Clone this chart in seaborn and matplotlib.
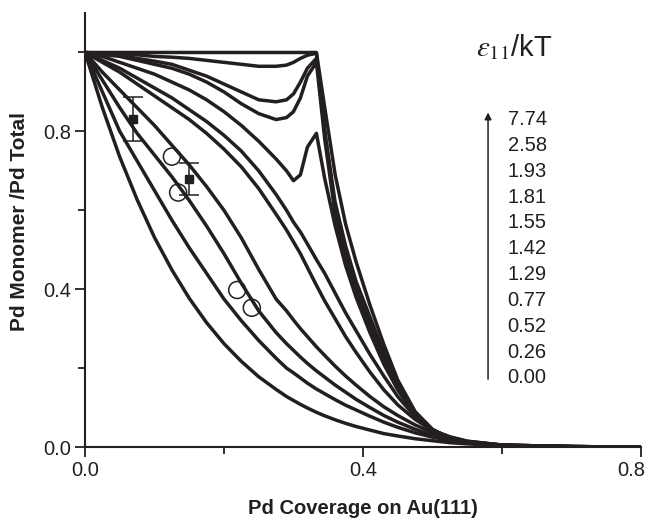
import numpy as np
import pandas as pd
import matplotlib
matplotlib.use("Agg")
import matplotlib.pyplot as plt
import matplotlib.transforms as mtransforms
import seaborn as sns

# Pd coverage grid shared by all simulated curves
coverage = [0, 0.025, 0.05, 0.075, 0.1, 0.125, 0.15, 0.175, 0.2, 0.225, 0.25,
            0.275, 0.29, 0.30, 0.31, 0.32, 0.333, 0.345, 0.36, 0.375, 0.39,
            0.41, 0.43, 0.45, 0.475, 0.5, 0.525, 0.55, 0.6, 0.7, 0.8]

# monomer fraction for each pair interaction eps_11/kT
eps_000 = [1, 0.86, 0.735, 0.627, 0.531, 0.449, 0.377, 0.315, 0.262, 0.217, 0.178,
           0.146, 0.128, 0.118, 0.108, 0.099, 0.088, 0.079, 0.069, 0.060, 0.052,
           0.043, 0.034, 0.028, 0.021, 0.016, 0.011, 0.008, 0.004, 0.001, 0.0]
eps_026 = [1, 0.90, 0.80, 0.725, 0.65, 0.575, 0.505, 0.44, 0.375, 0.32, 0.27,
           0.225, 0.20, 0.188, 0.175, 0.162, 0.147, 0.135, 0.12, 0.106, 0.094,
           0.078, 0.063, 0.05, 0.036, 0.025, 0.016, 0.01, 0.004, 0.001, 0.0]
eps_052 = [1, 0.93, 0.86, 0.795, 0.74, 0.685, 0.625, 0.56, 0.49, 0.415, 0.345,
           0.29, 0.262, 0.245, 0.228, 0.212, 0.193, 0.177, 0.157, 0.139, 0.121,
           0.10, 0.08, 0.063, 0.045, 0.03, 0.019, 0.012, 0.005, 0.001, 0.0]
eps_077 = [1, 0.95, 0.905, 0.86, 0.815, 0.765, 0.715, 0.66, 0.60, 0.53, 0.45,
           0.375, 0.345, 0.322, 0.30, 0.28, 0.254, 0.232, 0.205, 0.18, 0.157,
           0.128, 0.102, 0.08, 0.056, 0.037, 0.023, 0.014, 0.005, 0.001, 0.0]
eps_129 = [1, 0.975, 0.95, 0.92, 0.89, 0.86, 0.83, 0.795, 0.755, 0.71, 0.655,
           0.59, 0.55, 0.52, 0.49, 0.455, 0.41, 0.37, 0.325, 0.28, 0.24,
           0.19, 0.145, 0.107, 0.07, 0.042, 0.026, 0.015, 0.005, 0.001, 0.0]
eps_142 = [1, 0.98, 0.96, 0.935, 0.91, 0.885, 0.855, 0.825, 0.79, 0.75, 0.70,
           0.64, 0.60, 0.57, 0.545, 0.515, 0.475, 0.44, 0.39, 0.34, 0.295,
           0.235, 0.18, 0.128, 0.077, 0.043, 0.025, 0.014, 0.005, 0.001, 0.0]
eps_155 = [1, 0.99, 0.975, 0.96, 0.945, 0.925, 0.905, 0.88, 0.85, 0.815, 0.775,
           0.73, 0.70, 0.675, 0.69, 0.76, 0.795, 0.68, 0.56, 0.46, 0.38,
           0.29, 0.21, 0.145, 0.08, 0.041, 0.022, 0.012, 0.004, 0.001, 0.0]
eps_181 = [1, 0.995, 0.99, 0.98, 0.97, 0.96, 0.945, 0.925, 0.90, 0.87, 0.845,
           0.83, 0.835, 0.85, 0.885, 0.94, 0.975, 0.78, 0.59, 0.48, 0.395,
           0.305, 0.22, 0.15, 0.083, 0.042, 0.022, 0.012, 0.004, 0.001, 0.0]
eps_193 = [1, 0.997, 0.993, 0.985, 0.978, 0.97, 0.955, 0.94, 0.92, 0.90, 0.88,
           0.875, 0.88, 0.895, 0.925, 0.96, 0.985, 0.80, 0.60, 0.49, 0.405,
           0.315, 0.23, 0.155, 0.085, 0.043, 0.022, 0.012, 0.004, 0.001, 0.0]
eps_258 = [1, 0.998, 0.996, 0.994, 0.99, 0.988, 0.985, 0.98, 0.975, 0.97, 0.965,
           0.965, 0.968, 0.975, 0.985, 0.993, 0.998, 0.80, 0.62, 0.51, 0.42,
           0.33, 0.24, 0.16, 0.087, 0.044, 0.022, 0.012, 0.004, 0.001, 0.0]
eps_774 = [1, 1, 1, 1, 1, 1, 1, 1, 1, 1, 1,
           1, 1, 1, 1, 1, 1, 0.86, 0.69, 0.565, 0.47,
           0.36, 0.26, 0.17, 0.09, 0.045, 0.022, 0.011, 0.003, 0.0005, 0.0]

eps_labels = ["7.74", "2.58", "1.93", "1.81", "1.55", "1.42", "1.29",
              "0.77", "0.52", "0.26", "0.00"]
series = [eps_774, eps_258, eps_193, eps_181, eps_155, eps_142, eps_129,
          eps_077, eps_052, eps_026, eps_000]

# experimental monomer fractions with error bars
exp_x = [0.069, 0.150]
exp_y = [0.832, 0.680]
exp_err = [0.056, 0.040]

# monomer fractions from a second data set (open circles)
circ_x = [0.125, 0.134, 0.219, 0.240]
circ_y = [0.736, 0.645, 0.398, 0.353]

frames = [pd.DataFrame({"coverage": coverage, "monomer": vals, "eps": lab})
          for lab, vals in zip(eps_labels, series)]
df = pd.concat(frames, ignore_index=True)

sns.set_style("ticks")
plt.rcParams["font.family"] = ["Liberation Sans", "DejaVu Sans"]
plt.rcParams["mathtext.fontset"] = "stix"

ink = "#231f20"
fig = plt.figure(figsize=(6.52, 5.21), dpi=100)
ax = fig.add_axes([0.1304, 0.142, 0.8526, 0.833])

sns.lineplot(data=df, x="coverage", y="monomer", units="eps", estimator=None,
             color=ink, lw=2.5, ax=ax, legend=False)

ax.errorbar(exp_x, exp_y, yerr=exp_err, fmt="s", color=ink, ms=6,
            elinewidth=1.1, capsize=7, capthick=1.1)
sns.scatterplot(x=circ_x, y=circ_y, marker="o", s=150, facecolor="none",
                edgecolor=ink, linewidth=1.1, ax=ax, zorder=5)

ax.set_xlim(0, 0.8)
ax.set_ylim(0, 1.10)
ax.set_xticks([0.0, 0.4, 0.8])
ax.set_xticklabels(["0.0", "0.4", "0.8"])
ax.set_xticks([0.2, 0.6], minor=True)
ax.set_yticks([0.0, 0.4, 0.8])
ax.set_yticklabels(["0.0", "0.4", "0.8"])
ax.set_yticks([0.2, 0.6, 1.0], minor=True)
ax.tick_params(which="major", length=7, width=1.3, color=ink,
               labelsize=14.5, labelcolor=ink, pad=3)
ax.tick_params(which="minor", length=5, width=1.3, color=ink)
for side in ("left", "bottom"):
    ax.spines[side].set_linewidth(1.5)
    ax.spines[side].set_color(ink)
sns.despine(ax=ax)

# keep the last x tick label inside the figure edge
last = ax.get_xticklabels()[-1]
last.set_transform(last.get_transform() +
                   mtransforms.ScaledTranslation(-7 / 72, 0, fig.dpi_scale_trans))

ax.set_xlabel("Pd Coverage on Au(111)", fontsize=14.5, fontweight="bold",
              color=ink, labelpad=14)
ax.set_ylabel("Pd Monomer /Pd Total", fontsize=15, fontweight="bold",
              color=ink)
ax.yaxis.set_label_coords(-0.1, 0.52)

# interaction-strength key with upward arrow
ax.text(0.563, 0.99, r"$\varepsilon_{11}$/kT", fontsize=21, color=ink,
        ha="left", va="baseline")
key_top, key_step = 0.83, 0.0655
for i, lab in enumerate(eps_labels):
    ax.text(0.608, key_top - i * key_step, lab, fontsize=14.5, color=ink,
            ha="left", va="center")
ax.annotate("", xy=(0.58, 0.855), xytext=(0.58, 0.165),
            arrowprops=dict(arrowstyle="-|>", color=ink, lw=1.1,
                            mutation_scale=10))

fig.savefig("out.png", dpi=100)
